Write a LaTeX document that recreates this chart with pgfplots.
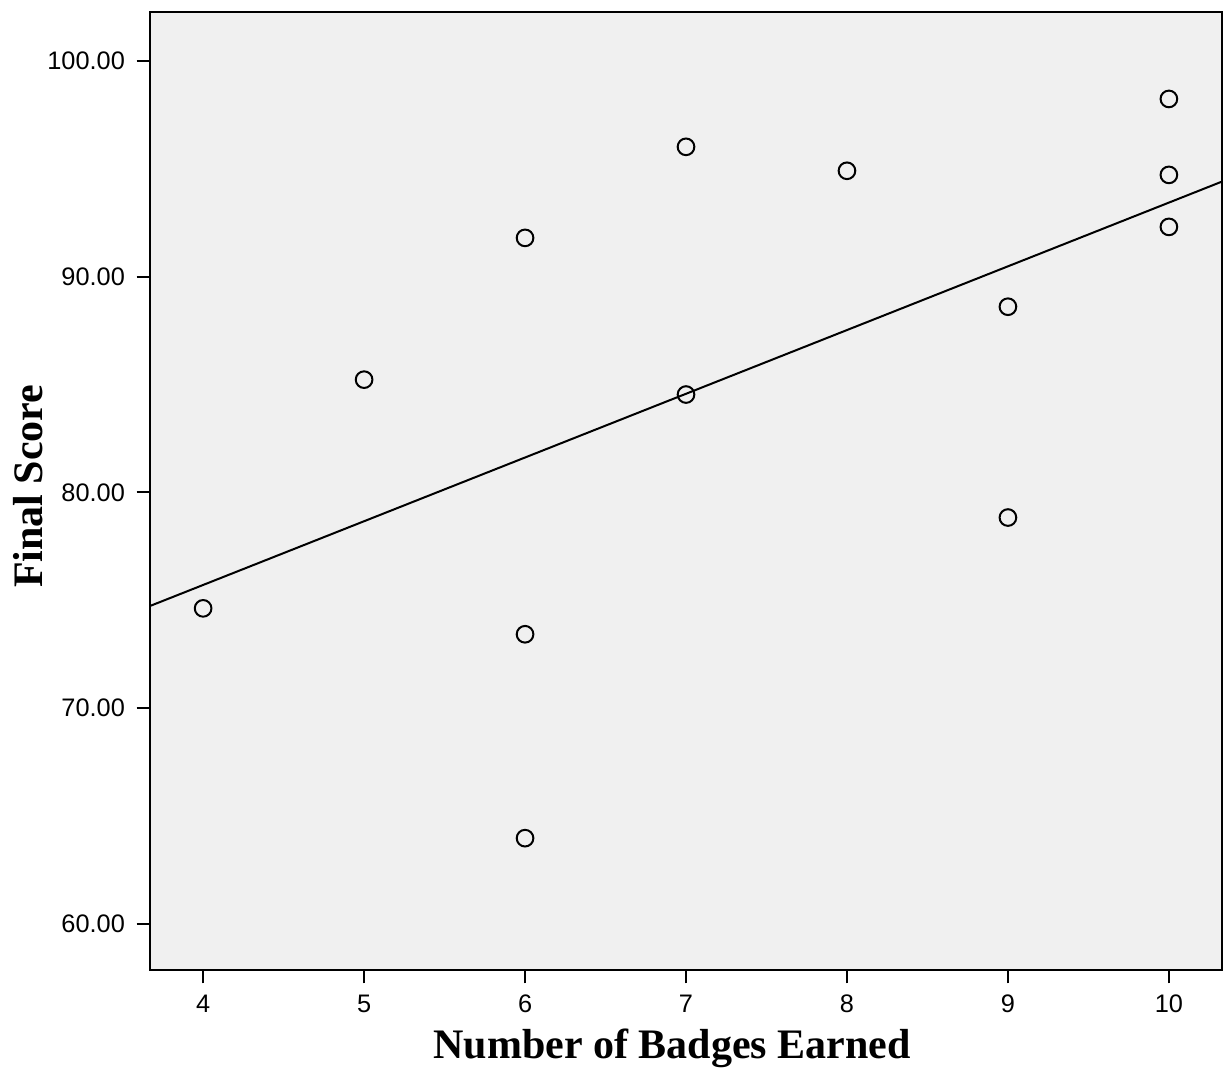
\documentclass[border=0pt]{standalone}
\usepackage{fontspec}
\setmainfont{Liberation Serif}
\newfontfamily\arial{Liberation Sans}
\usepackage{pgfplots}
\pgfplotsset{compat=1.18}
\definecolor{bggray}{HTML}{F0F0F0}
\begin{document}
\begin{tikzpicture}
\begin{axis}[
  name=ax,
  scale only axis,
  width=321.6pt, height=287.4pt,
  xmin=3.67, xmax=10.33,
  ymin=57.87, ymax=102.27,
  xtick={4,5,6,7,8,9,10},
  ytick={60,70,80,90,100},
  axis background/.style={fill=bggray},
  axis line style={line width=0.6pt},
  tick style={line width=0.6pt, black},
  tick align=outside,
  major tick length=4pt,
  xtick pos=bottom, ytick pos=left,
  /pgf/number format/assume math mode=true,
  tick label style={font=\arial\fontsize{7.6}{9}\selectfont},
  yticklabel style={/pgf/number format/.cd, fixed, fixed zerofill, precision=2},
  xticklabel style={/pgf/number format/.cd, fixed, precision=0},
  xlabel={\textbf{Number of Badges Earned}},
  ylabel={\textbf{Final Score}},
  label style={font=\fontsize{12.6}{14}\selectfont},
  xlabel style={at={(axis description cs:0.487,-0.0814)}, anchor=center},
  ylabel style={at={(axis description cs:-0.1138,0.505)}, anchor=center},
  clip=true,
]
\addplot[only marks, mark=o, mark size=2.5pt, mark options={line width=0.6pt, black}] coordinates {
  (4,74.63) (5,85.23) (6,91.8) (6,73.43) (6,63.98)
  (7,96.02) (7,84.54) (8,94.91) (9,88.61) (9,78.84)
  (10,98.24) (10,94.72) (10,92.31)
};
\addplot[black, line width=0.6pt] coordinates {(3.67,74.74) (10.33,94.41)};
\end{axis}
\path (ax.south west) ++(-45pt,-30pt) coordinate (bl);
\path (ax.north east) ++(1.2pt,3.6pt) coordinate (tr);
\path (bl) rectangle (tr);
\end{tikzpicture}
\end{document}
